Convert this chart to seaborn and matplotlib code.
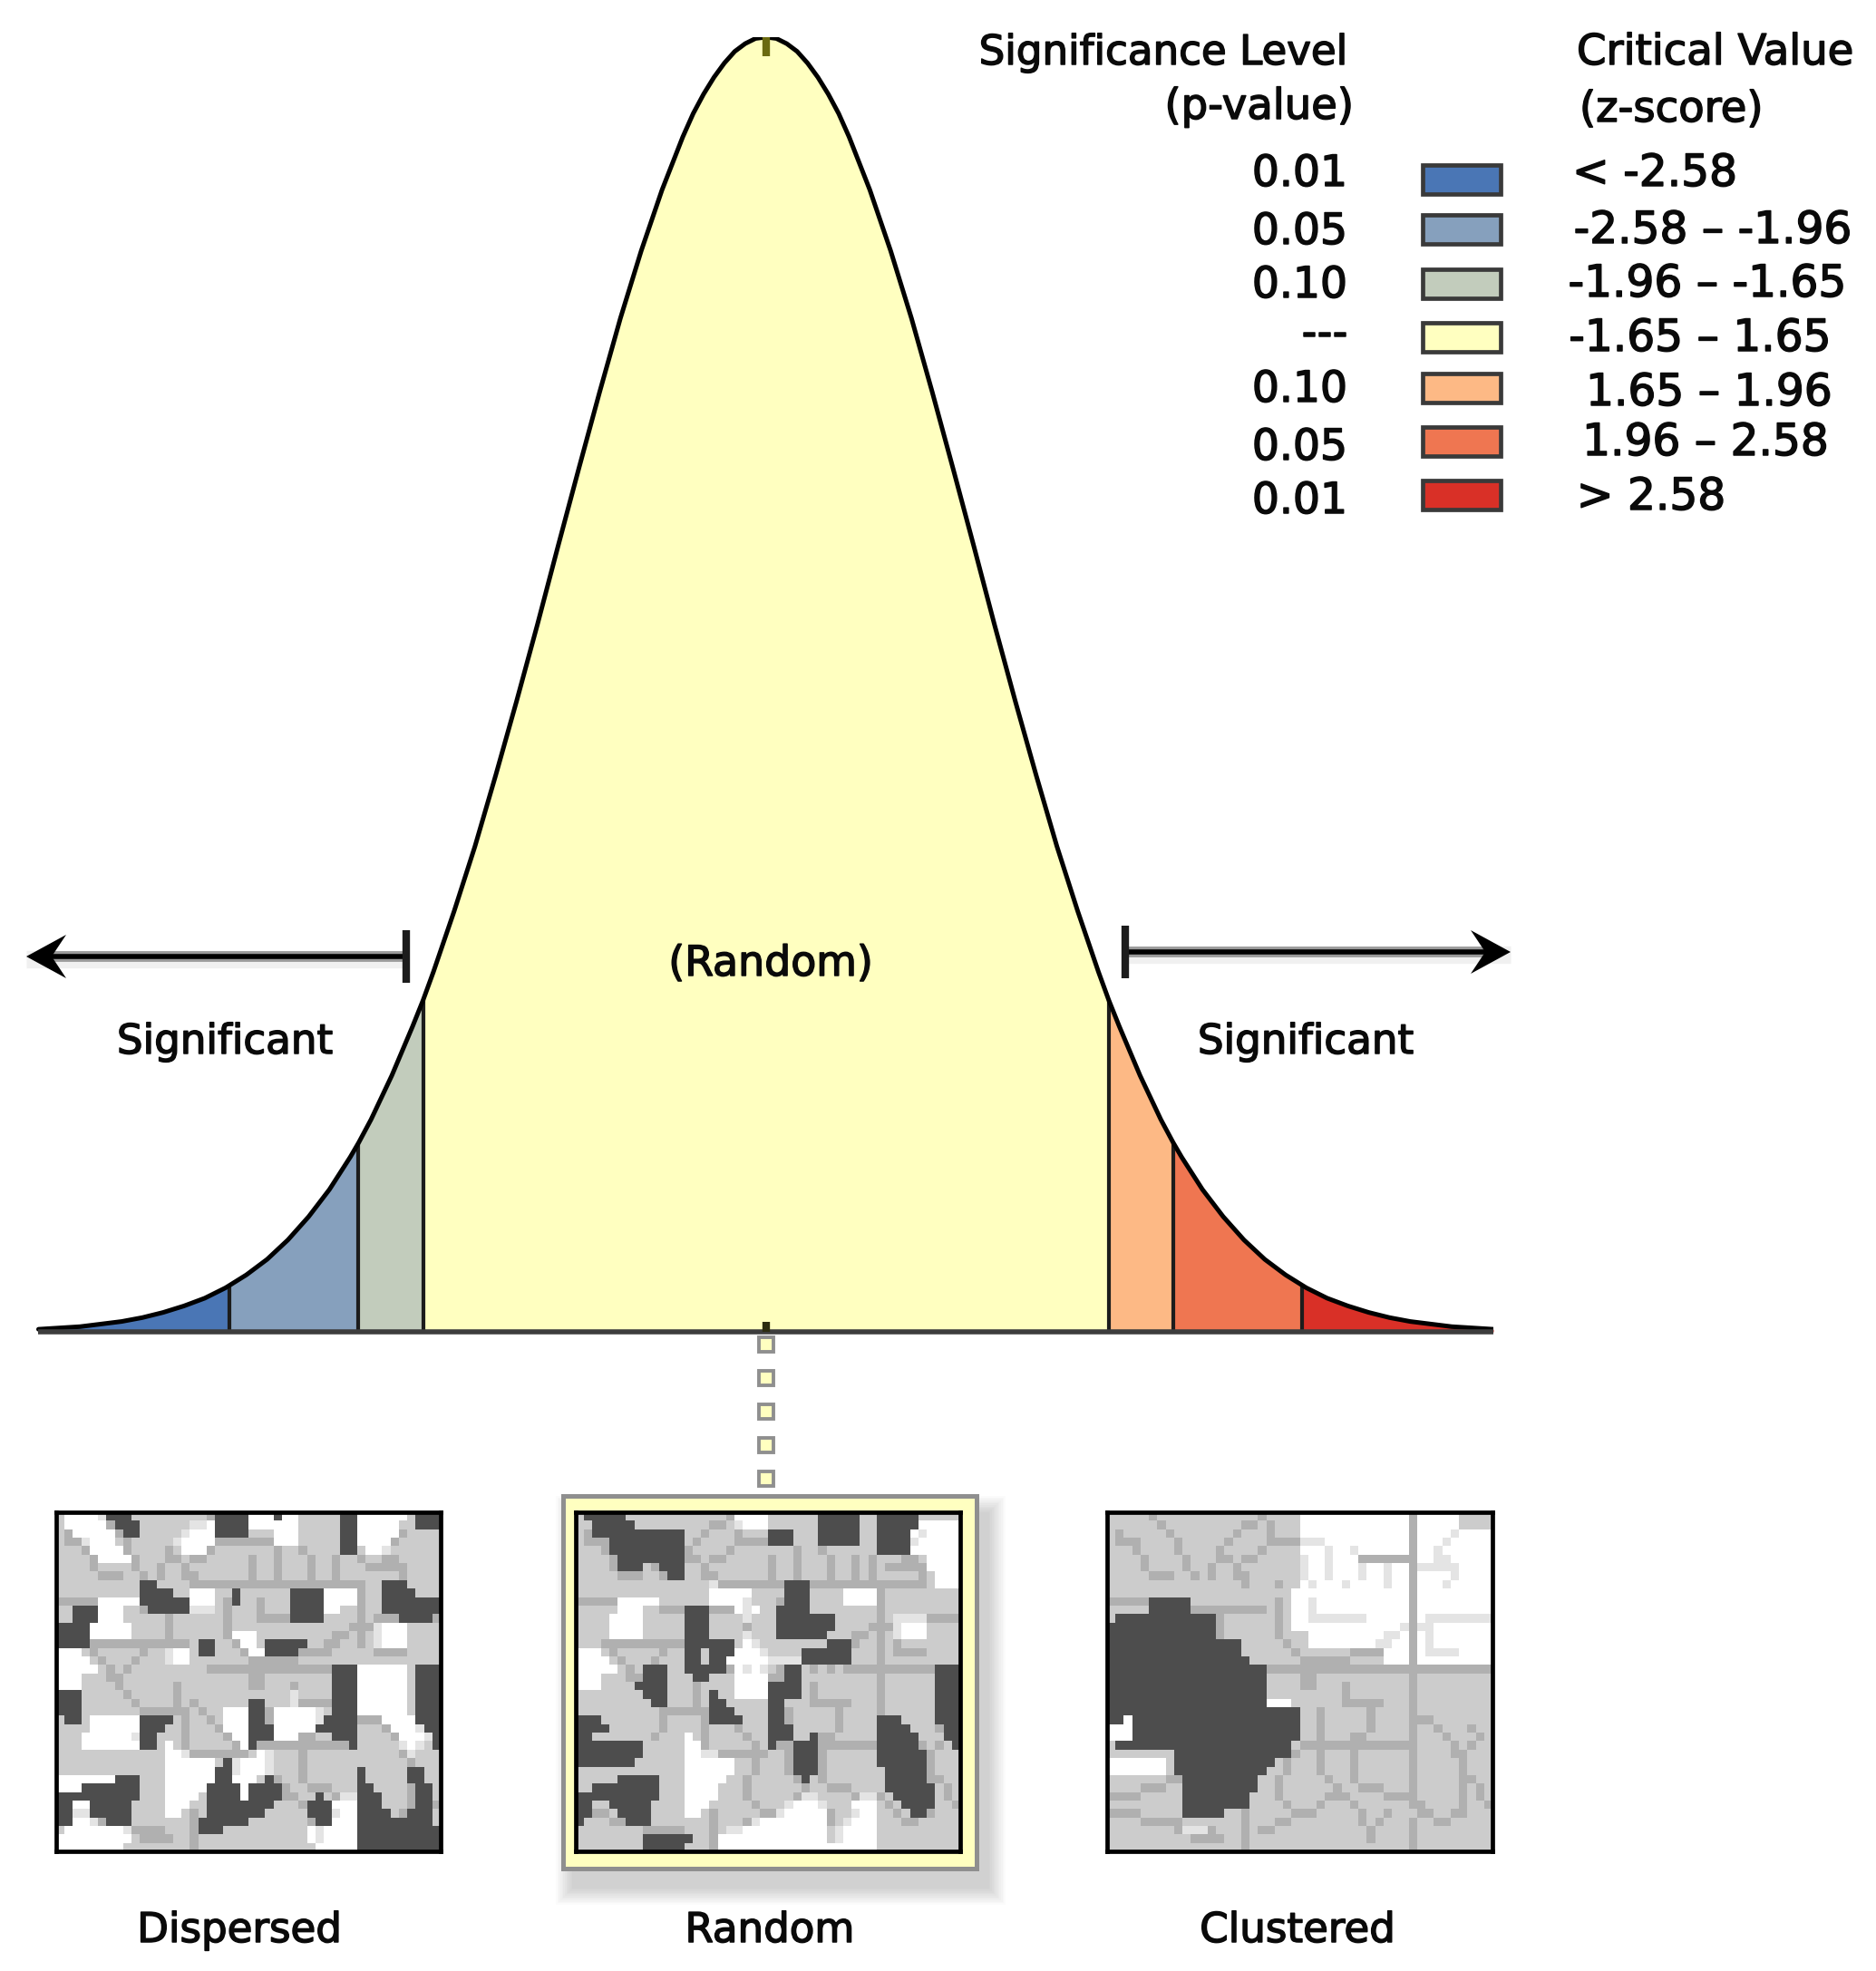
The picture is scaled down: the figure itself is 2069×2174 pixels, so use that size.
import re
import numpy as np
import seaborn as sns
import matplotlib
matplotlib.use('Agg')
import matplotlib.pyplot as plt
import matplotlib.patheffects as pe
from matplotlib.colors import ListedColormap
from matplotlib.patches import Rectangle, Polygon

# right half of the bell (left half is its mirror)
z_half = [0.0, 0.05, 0.1, 0.15, 0.2, 0.25, 0.3, 0.35, 0.4, 0.5, 0.6, 0.7, 0.8, 0.9, 1.0, 1.1, 1.2, 1.3, 1.4, 1.5,
          1.6, 1.65, 1.7, 1.8, 1.9, 1.96, 2.0, 2.1, 2.2, 2.3, 2.4, 2.5, 2.58, 2.6, 2.7, 2.8, 2.9, 3.0, 3.1, 3.2,
          3.3, 3.4, 3.5]
height_half = [1.0, 0.999, 0.995, 0.989, 0.98, 0.969, 0.956, 0.941, 0.923, 0.882, 0.835, 0.783, 0.726, 0.667, 0.607,
               0.546, 0.487, 0.43, 0.375, 0.325, 0.278, 0.256, 0.236, 0.198, 0.164, 0.146, 0.135, 0.11, 0.089, 0.071,
               0.056, 0.044, 0.036, 0.034, 0.026, 0.02, 0.015, 0.011, 0.008, 0.006, 0.004, 0.003, 0.002]

band_edges = [-3.5, -2.58, -1.96, -1.65, 1.65, 1.96, 2.58, 3.5]
band_colors = ['#4a76b5', '#86a0bd', '#c2ccbc', '#ffffc0', '#fdb985', '#ef7651', '#d93027']
p_labels = ['0.01', '0.05', '0.10', '---', '0.10', '0.05', '0.01']
z_labels = ['< -2.58', '-2.58 – -1.96', '-1.96 – -1.65', '-1.65 – 1.65', '1.65 – 1.96', '1.96 – 2.58', '> 2.58']

# maps as run length rows, 46 cells wide: o grey, . white, # dark, + line
dispersed_rows = [
    '1o5.3#10o4#3.1#2.5o2#6.1o3#', '1o5.1o3#6o3.4#6.5o2#5.2o3#', '2o5.1o2#5o4.4#3o3.5o2#5.5o',
    '3o4.7o5.7o3.5o2#4.6o', '4o4.7o3.16o2#1o3.6o', '5o4.27o1+9o', '46o', '46o',
    '10o2#4o21+2o3#4o', '10o4#2o3.2o1#6o4#4.1+2o4#3o', '5o5.6#3.2o1#6o4#4.1+2o7#',
    '2o3#3.3o5#3.9o4#2.2o1+2o7#', '2o3#3.20o4#4o1+4o4#1o', '4#5.27o1+1o4.4o',
    '4#5.12o3.12o1+1o4.4o', '4#13o2#3o2.1o5#6o1+1o4.4o', '3.10o3.1o2#4o2.4#17o', '4.9o3.30o',
    '5.13o15+3#6.1o3#', '3.30o3#6.1o3#', '3.30o3#6.1o3#', '3#25o1.4o3#6.1o3#',
    '3#20o2#3o1.4o3#6.1o3#', '3#17o3.2#1o6.1o3#6.1o3#', '1o2#1o6.4#6o3.2#1o6.4#3o4.3#',
    '4o6.3#7o3.3#5.5#4o4.2#', '3o7.2#9o2.3#3.4o3#5o4.1#', '3o7.2#1o1.8o1.1#11o1#5o3.1o1#',
    '13o3.8o2.16o1.3o', '13o6.1o1#5.20o', '13o6.2#5.10o1#5o2#2o', '7.3#3o6.2#3.1o1#10o1#5o2#2o',
    '3.7#3o5.4#1.4#9o2#5o2#1o', '10#3o4.1o4#1.4#4o1#2o2.3#4o2#1o', '2#2.5#4o3.2o8#4o3#3.3#4o2#1o',
    '2#2.5#4o2.3o7#5o3#3.4#2o3#1o', '2#3.1o3#8o6#8o2#3.9#1o', '1o8.8o3#10o6.10#', '9.21o6.10#', '8.23o5.10#',
]
random_rows = [
    '1o5#13o4.6o5#2o5#5o', '2o5#12o4.6o5#2o5#5.', '2o11#10o3#3o5#2o4#6.', '4o9#10o3#3o5#2o4#6.',
    '4o9#23o4#6.', '5o8#22o1+6o4.', '5o3#2o3#22o1+6o4.', '11o2#22o1+7o3.', '16o1.8+3#14+1o3.',
    '16o5.4o3#4o4.1+9o', '5o5.6o5.4o3#4o4.1+9o', '5o3.5o3#3o3.2o4#8o1+9o',
    '4o4.5o3#4o1.3o7#5o1+1o4.4o', '4o4.5o3#8o7#5o1+1o4.4o', '4o4.5o3#4o1.3o6#6o1+1o4.4o',
    '13o6#1o2.8o3#3o1+9o', '3.10o2#1o3#4.4o6#3o1+9o', '4.9o2#1o2#9.6#3o1+9o',
    '5.3o3#2o5#1o4.2o2#5o11+3#', '3.5o3#3o2#3o4.2o2#9o1+6o3#', '3.4o4#8o4.4#9o1+6o3#',
    '8o3#5o1#2o4.4#9o1+6o3#', '9o2#5o2#5o2#11o1+6o3#', '16o3#4o2#11o1+6o3#', '3#13o4#3o2#11o3#4o3#',
    '4#19o3#10o4#4o2#', '2#11o1.9o3#2o1#7o5#3o2#', '8#5o2.8o1#2o3#7o5#4o1#', '8#5o4.9o3#7o6#4o',
    '7#6o6.7o3#7o6#4o', '13o6.7o3#8o5#4o', '5o5#3o5.9o1#9o5#4o', '2o8#3o4.20o6#3o',
    '10#3o4.10o2.5o2.2o5#3o', '2#2o5#4o3.9o5.3o3.3o4#3o', '2#3o4#4o2.9o6.3o3.4o2#4o',
    '1#5o3#12o9.2o4.10o', '18o12.1o5.10o', '8o6#3o13.1o5.10o', '8o5#4o19.10o',
]
clustered_rows = [
    '23o13.1+5.4o', '23o13.1+5.4o', '23o13.1+9.', '19o4+13.1+9.', '23o13.1+9.', '23o7.6+1+9.', '23o13.1+9.',
    '23o13.1+9.', '23o13.1+9.', '22o14.1+9.', '5o5#12o14.1+9.', '5o5#12o14.1+9.', '1o12#9o14.1+9.',
    '13#9o14.1+9.', '13#11o12.1+9.', '16#8o12.1+9.', '16#17o3.1+9.', '17#16o3.1+9.', '19#27+', '19#17o1+9o',
    '19#17o1+9o', '19#17o1+9o', '19#3.14o1+9o', '23#13o1+9o', '2#1.20#13o1+9o', '3.20#13o1+9o', '3.20#13o1+9o',
    '1o21#14o1+9o', '8o14#14o1+9o', '7.1o12#16o1+9o', '7.1o11#17o1+9o', '9o9#18o1+9o', '9o9#18o1+9o',
    '9o8#19o1+9o', '9o8#19o1+9o', '9o5#23o1+9o', '36o1+9o', '9o3.24o1+9o', '36o1+9o', '36o1+9o',
]
# tract boundaries, same geography on all three maps: columns per row
tract_lines = [
    '5 18', '6 16 17 19', '1 7 15 19 41', '1 2 3 8 14 19 20 21 22 23 24 25 40', '3 8 13 18 26 29 39',
    '4 9 13 14 16 17 23 26 30 33 39 40', '4 9 12 15 23 26 30 33 37 38 39 40 41', '5 6 7 10 12 15 16 23 26 30 33 41',
    '16 20 24 28 33 36 40', '', '0 1 2 3 4 20 24', '10 11 12 13 14 15 16 17 18 20 24', '13 20 24 25 26 27 28 29 30 38 39 40 41 42 43 44 45',
    '13 20 35 36 37 38', '13 20 33 34 38', '3 4 5 6 7 8 9 10 11 12 13 14 15 21 32 33 38', '4 10 13 22 29 30 31 32 38 39 40 41',
    '5 9 13 23 24 25 26 27 28', '6 8 18 20 22 24 26 28 30', '6 7 23 24', '7 14 23 24 28', '8 14 28',
    '9 14 16 28 29 30 31 32', '10 11 12 13 14 15 17 25 31', '10 15 18 25 31 36 37 38', '10 15 19 25 31 39 43',
    '9 15 20 25 29 30 40 44', '15 21 23 24 25 26 27 28 29 30 31 32 33 34 35 41 43', '15 16 17 18 19 20 21 22 25 29 41 42',
    '21 25 29 42', '21 25 29 42', '7 8 20 26 29 42 43', '4 5 6 20 27 30 31 32 42 44', '0 1 2 3 20 26 27 28 33 34 35 36 42 44',
    '21 25 29 37 42 45', '0 1 2 3 16 22 23 24 30 33 38 41 42', '4 5 6 7 8 16 20 21 30 32 39 40', '8 9 10 11 12 16 18 19 31',
    '10 11 12 13 16 31', '16',
]
map_titles = ['Dispersed', 'Random', 'Clustered']

FIG_W, FIG_H = 2069, 2174
cell_codes = {'.': 0, 'o': 1, '#': 2, '+': 3}
map_cmap = ListedColormap(['#ffffff', '#cccccc', '#4d4d4d', '#b0b0b0', '#e4e4e4'])


def px_axes(fig, x0, y0, x1, y1):
    return fig.add_axes([x0 / FIG_W, 1 - y1 / FIG_H, (x1 - x0) / FIG_W, (y1 - y0) / FIG_H])


def decode_map(rows):
    grid = np.ones((len(rows), 46), dtype=int)
    for r, row in enumerate(rows):
        cells = []
        for n, ch in re.findall(r'(\d+)(\D)', row):
            cells += [cell_codes[ch]] * int(n)
        grid[r, :46] = (cells + [1] * 46)[:46]
        if tract_lines[r]:
            for c in tract_lines[r].split():
                c = int(c)
                if grid[r, c] == 1:
                    grid[r, c] = 3
                elif grid[r, c] == 0:
                    grid[r, c] = 4
    return grid


def label(ax, x, y, s, ha='left', size=33):
    t = ax.text(x, y, s, ha=ha, va='baseline', fontsize=size, color='#0a0a0a', family='DejaVu Sans')
    t.set_path_effects([pe.withStroke(linewidth=1.1, foreground='#0a0a0a')])


def soft_shadow(ax, x, y, w, h, dx, dy, steps=12, spread=20, level=0.016):
    for i in range(steps):
        grow = spread * (1 - i / steps)
        ax.add_patch(Rectangle((x + dx - grow, y + dy - grow), w + 2 * grow, h + 2 * grow,
                               facecolor='k', edgecolor='none', alpha=level, zorder=1))


sns.set_theme(style='white')
fig = plt.figure(figsize=(FIG_W / 100, FIG_H / 100), dpi=100, facecolor='white')

# overlay in pixel coordinates for the annotation furniture
ov = px_axes(fig, 0, 0, FIG_W, FIG_H)
ov.set_xlim(0, FIG_W)
ov.set_ylim(FIG_H, 0)
ov.axis('off')
ov.set_zorder(3)

# bell
z = np.array([-v for v in z_half[:0:-1]] + z_half)
h = np.array(height_half[:0:-1] + height_half)
ax = px_axes(fig, 38, 41, 1647, 1469)
ax.patch.set_alpha(0)
ax.set_zorder(1)
for i in range(len(band_colors)):
    mask = (z >= band_edges[i]) & (z <= band_edges[i + 1])
    ax.fill_between(z[mask], 0, h[mask], color=band_colors[i], linewidth=0)
for edge in band_edges[1:-1]:
    ax.plot([edge, edge], [0, h[np.argmin(np.abs(z - edge))]], color='#1c1c1c', lw=3, solid_capstyle='butt')
sns.lineplot(x=z, y=h, ax=ax, color='black', linewidth=3.6, sort=False, errorbar=None)
ax.plot([z[0], z[-1]], [0, 0], color='#3d3d3d', lw=4, solid_capstyle='butt', clip_on=False)
ax.plot([0, 0], [0.985, 1.0], color='#6b6b10', lw=6, solid_capstyle='butt')
ax.plot([0, 0], [0, 0.008], color='#2b2b10', lw=6, solid_capstyle='butt')
ax.set_xlim(-3.5195, 3.5)
ax.set_ylim(0, 1)
ax.axis('off')

# dotted connector
for i in range(5):
    ov.plot([845], [1483 + i * 36.9], marker='s', ms=11, mfc='#ffffc0', mec='#8f8f8f', mew=2.8, ls='none', zorder=4)

# highlight frame round the middle map
soft_shadow(ov, 621, 1650, 456, 411, 12, 20)
ov.add_patch(Rectangle((621, 1650), 456, 411, facecolor='#ffffc0', edgecolor='#8f8f8f', lw=3.6, zorder=2))

# maps
map_boxes = [(62, 486), (635, 1059), (1221, 1646)]
for rows, box in zip([dispersed_rows, random_rows, clustered_rows], map_boxes):
    m_ax = px_axes(fig, box[0], 1668, box[1], 2042)
    m_ax.set_zorder(5)
    sns.heatmap(decode_map(rows), ax=m_ax, cmap=map_cmap, vmin=-0.5, vmax=4.5, cbar=False,
                xticklabels=False, yticklabels=False)
    for s in m_ax.spines.values():
        s.set_visible(True)
        s.set_color('black')
        s.set_linewidth(3.4)

# significance arrows
for tick_x, tip_x, y, sign in [(448, 29, 1055, -1), (1241, 1666, 1050, 1)]:
    ov.plot([tick_x, tip_x], [y + 3, y + 3], color='#000000', lw=14, alpha=0.06, solid_capstyle='butt', zorder=3)
    ov.plot([tick_x, tip_x - sign * 20], [y, y], color='#9a9a9a', lw=8.5, solid_capstyle='butt', zorder=3)
    ov.plot([tick_x, tip_x - sign * 20], [y, y], color='black', lw=4, solid_capstyle='butt', zorder=4)
    ov.plot([tick_x, tick_x], [y - 29, y + 29], color='#1c1c1c', lw=6, solid_capstyle='butt', zorder=4)
    ov.add_patch(Polygon([(tip_x, y), (tip_x - sign * 44, y - 24), (tip_x - sign * 28, y), (tip_x - sign * 44, y + 24)],
                         closed=True, facecolor='black', edgecolor='none', zorder=5))

# legend
swatch_top = [178, 233, 293, 352, 408, 467, 526]
for top, col in zip(swatch_top, band_colors):
    ov.add_patch(Rectangle((1569, top + 2), 86, 36, facecolor='#b8b8b8', edgecolor='none', alpha=0.45, zorder=2))
    ov.add_patch(Rectangle((1569, top + 4), 86, 32, facecolor=col, edgecolor='#3a3a3a', lw=3.4, zorder=3))

p_base = [205, 269, 328, 382, 443, 507, 566]
for y, s in zip(p_base, p_labels):
    label(ov, 1486, y, s, ha='right', size=34)
z_center = [1825, 1889, 1883, 1875, 1885, 1881, 1821]
z_base = [205, 268, 327, 387, 447, 502, 562]
for x, y, s in zip(z_center, z_base, z_labels):
    label(ov, x, y, s, ha='center', size=35)

label(ov, 1486, 71, 'Significance Level', ha='right', size=32.5)
label(ov, 1493, 131, '(p-value)', ha='right', size=33.5)
label(ov, 1739, 71, 'Critical Value', size=33.5)
label(ov, 1742, 134, '(z-score)', size=33.5)
label(ov, 850, 1076, '(Random)', ha='center')
label(ov, 248, 1162, 'Significant', ha='center', size=32.5)
label(ov, 1440, 1162, 'Significant', ha='center', size=32.5)
for x, s in zip([264, 849, 1431], map_titles):
    label(ov, x, 2142, s, ha='center', size=32.5)

fig.savefig('out.png', dpi=100)
